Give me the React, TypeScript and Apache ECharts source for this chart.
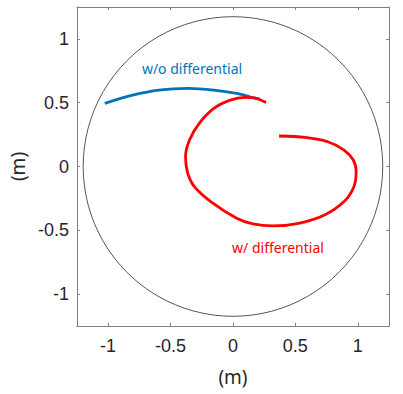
import React, { useEffect, useRef } from "react";
import * as echarts from "echarts";

const xTicks = [-1, -0.5, 0, 0.5, 1];
const axisRange = [-1.25, 1.25];
const boundaryRadius = 1.2;
const origin = [[0, 0]];

const noDiffLabel = "w/o differential";
const diffLabel = "w/ differential";

const noDiffX = [-1.027, -0.804, -0.596, -0.361, -0.153, 0.03, 0.134, 0.215];
const noDiffY = [0.495, 0.559, 0.599, 0.612, 0.599, 0.573, 0.546, 0.528];

const diffX = [0.265, 0.186, 0.095, -0.022, -0.153, -0.27, -0.348, -0.38, -0.362, -0.309, -0.178, 0.03, 0.16, 0.317, 0.526, 0.734, 0.89, 0.969, 0.987, 0.964, 0.89, 0.76, 0.578, 0.369];
const diffY = [0.502, 0.534, 0.541, 0.52, 0.455, 0.338, 0.207, 0.077, -0.053, -0.158, -0.275, -0.405, -0.45, -0.466, -0.445, -0.38, -0.275, -0.158, -0.04, 0.051, 0.129, 0.194, 0.228, 0.239];

const tickFont = "'Liberation Sans', Arial, sans-serif";
const annFont = "'Noto Sans', 'Open Sans', sans-serif";

export default function App() {
  const ref = useRef<HTMLDivElement>(null);
  useEffect(() => {
    if (!ref.current) return;
    const chart = echarts.init(ref.current, null, { renderer: "svg" });
    const axisColor = "#808080";
    const baseX = {
      type: "value",
      min: axisRange[0],
      max: axisRange[1],
      minInterval: 0.5,
      maxInterval: 0.5,
      splitLine: { show: false },
      axisLine: { show: true, onZero: false, lineStyle: { color: axisColor, width: 1 } },
      axisTick: { show: true, inside: true, length: 3, lineStyle: { color: axisColor } },
    };
    const labelStyle = {
      color: "#262626",
      fontSize: 18,
      fontFamily: tickFont,
      showMinLabel: false,
      showMaxLabel: false,
      formatter: (v: number) => (xTicks.includes(v) ? String(v) : ""),
    };
    const option = {
      animation: false,
      grid: { left: 70, top: 7, width: 319, height: 319, containLabel: false },
      xAxis: [
        {
          ...baseX,
          position: "bottom",
          axisLabel: { ...labelStyle, margin: 11 },
          name: "(m)",
          nameLocation: "middle",
          nameGap: 41,
          nameTextStyle: { color: "#262626", fontSize: 19, fontFamily: annFont },
        },
        { ...baseX, position: "top", axisLabel: { show: false } },
      ],
      yAxis: [
        {
          ...baseX,
          position: "left",
          axisLabel: { ...labelStyle, margin: 8 },
          name: "(m)",
          nameLocation: "middle",
          nameGap: 47,
          nameTextStyle: { color: "#262626", fontSize: 19, fontFamily: annFont },
        },
        { ...baseX, position: "right", axisLabel: { show: false } },
      ],
      series: [
        {
          type: "custom",
          data: [[0, 0, boundaryRadius]],
          silent: true,
          renderItem: (params: any, api: any) => {
            const c = api.coord([api.value(0), api.value(1)]);
            const r = api.size([api.value(2), 0])[0];
            return {
              type: "circle",
              shape: { cx: c[0], cy: c[1], r },
              style: { fill: "none", stroke: "#555555", lineWidth: 1 },
            };
          },
        },
        {
          type: "line",
          data: noDiffX.map((x, i) => [x, noDiffY[i]]),
          smooth: 0.3,
          showSymbol: false,
          lineStyle: { color: "#0072BD", width: 2.8 },
        },
        {
          type: "line",
          data: diffX.map((x, i) => [x, diffY[i]]),
          smooth: 0.3,
          showSymbol: false,
          lineStyle: { color: "#FF0000", width: 2.8 },
        },
        {
          type: "scatter",
          data: origin,
          symbol: "emptyCircle",
          symbolSize: 8,
          itemStyle: { color: "#ffffff", borderColor: "#000000", borderWidth: 1 },
        },
      ],
      graphic: [
        {
          type: "text",
          x: 192,
          y: 68,
          style: {
            text: noDiffLabel,
            fill: "#0072BD",
            font: `14px ${annFont}`,
            textAlign: "center",
            textVerticalAlign: "middle",
          },
        },
        {
          type: "text",
          x: 278,
          y: 247,
          style: {
            text: diffLabel,
            fill: "#FF0000",
            font: `14px ${annFont}`,
            textAlign: "center",
            textVerticalAlign: "middle",
          },
        },
      ],
    };
    chart.setOption(option as any);
    return () => chart.dispose();
  }, []);
  return (
    <div
      ref={ref}
      style={{ position: "fixed", left: 0, top: 0, width: 403, height: 394, background: "#fff" }}
    />
  );
}
